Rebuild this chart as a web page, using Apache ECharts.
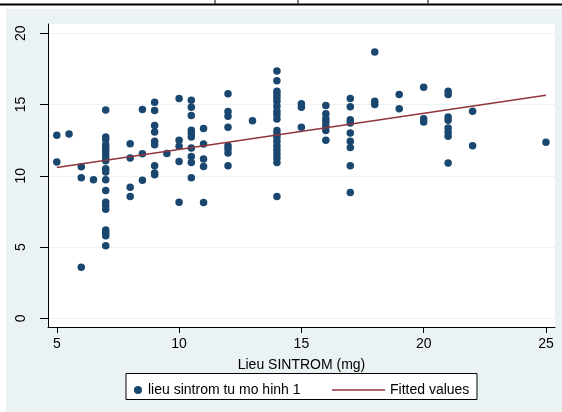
<!DOCTYPE html>
<html>
<head>
<meta charset="utf-8">
<script src="https://cdn.jsdelivr.net/npm/echarts@6/dist/echarts.min.js"></script>
<style>
  html, body { margin: 0; padding: 0; background: #fff; }
  #main { width: 562px; height: 412px; }
</style>
</head>
<body>
<div id="main"></div>
<script>
// lieu SINTROM (mg) groups and predicted dose values
var doseGroups = [5, 5.5, 6, 6.5, 7, 8, 8.5, 9, 9.5, 10, 10.5, 11, 12, 13, 14, 15, 16, 17, 18, 19, 20, 21, 22, 25];
var valuesByDose = [
    [12.84, 10.96],
    [12.93],
    [10.63, 9.86, 3.59],
    [9.72],
    [14.62, 12.72, 12.54, 12.18, 11.95, 11.76, 11.48, 11.24, 11.06, 10.49, 10.26, 9.72, 8.97, 8.15, 7.89, 7.65, 6.20, 6.01, 5.80, 5.09],
    [12.25, 11.24, 9.20, 8.54],
    [14.65, 11.55, 9.69],
    [15.16, 14.58, 13.52, 13.07, 12.42, 12.18, 10.70, 10.19, 10.07],
    [11.57],
    [15.42, 12.49, 12.07, 11.01, 8.15],
    [15.30, 14.81, 14.23, 13.19, 12.96, 12.72, 11.95, 11.36, 10.94, 9.86],
    [13.31, 12.23, 11.18, 10.66, 8.12],
    [15.75, 14.51, 14.18, 13.40, 12.11, 11.88, 11.60, 10.70],
    [13.87],
    [17.35, 16.67, 15.94, 15.70, 15.47, 15.23, 14.88, 14.53, 14.30, 13.99, 13.17, 12.94, 12.70, 12.42, 12.11, 11.83, 11.53, 11.25, 10.94, 8.54],
    [15.05, 14.81, 13.40],
    [14.93, 14.36, 14.00, 13.77, 13.50, 13.18, 12.50],
    [15.42, 14.84, 13.94, 13.71, 13.00, 12.42, 11.99, 10.70, 8.83],
    [18.68, 15.23, 15.00],
    [15.70, 14.70],
    [16.22, 14.01, 13.78],
    [15.94, 15.70, 14.13, 13.89, 13.36, 13.05, 12.77, 10.89],
    [14.53, 12.11],
    [12.35]
];
// fitted line end points
var fitX = [5, 25];
var fitY = [10.58, 15.65];

var xTicks = [5, 10, 15, 20, 25];
var yTicks = [0, 5, 10, 15, 20];

var points = [];
for (var i = 0; i < doseGroups.length; i++) {
    for (var j = 0; j < valuesByDose[i].length; j++) {
        points.push([doseGroups[i], valuesByDose[i][j]]);
    }
}
var fitted = [];
for (var k = 0; k < fitX.length; k++) {
    fitted.push([fitX[k], fitY[k]]);
}

var font = '"Liberation Sans", Arial, sans-serif';
var chart = echarts.init(document.getElementById('main'));

var option = {
    animation: false,
    textStyle: { fontFamily: font },
    graphic: [
        { type: 'rect', z: -10, shape: { x: 6, y: 9, width: 556, height: 403 }, style: { fill: '#eaf2f3' } },
        { type: 'line', shape: { x1: 0, y1: 4.5, x2: 562, y2: 4.5 }, style: { stroke: '#000', lineWidth: 2 } },
        { type: 'line', shape: { x1: 215, y1: 0, x2: 215, y2: 4 }, style: { stroke: '#000', lineWidth: 1 } },
        { type: 'line', shape: { x1: 298, y1: 0, x2: 298, y2: 4 }, style: { stroke: '#000', lineWidth: 1 } },
        { type: 'line', shape: { x1: 428, y1: 0, x2: 428, y2: 4 }, style: { stroke: '#000', lineWidth: 1 } },
        { type: 'rect', z: 1, shape: { x: 126, y: 373.5, width: 351, height: 26 }, style: { fill: '#fff', stroke: '#000', lineWidth: 1 } }
    ],
    grid: {
        left: 48, top: 24, right: 7, bottom: 85,
        show: true, backgroundColor: '#fff', borderWidth: 0
    },
    legend: [
        {
            data: ['lieu sintrom tu mo hinh 1'],
            left: 129, top: 378, z: 5,
            itemWidth: 8, itemHeight: 8,
            textStyle: { fontSize: 14, color: '#000', fontFamily: font, padding: [0, 0, 0, 1] }
        },
        {
            data: [{ name: 'Fitted values', icon: 'rect' }],
            left: 327, top: 378, z: 5,
            itemWidth: 53, itemHeight: 1.5,
            textStyle: { fontSize: 14, color: '#000', fontFamily: font, padding: [0, 0, 0, 0] }
        }
    ],
    xAxis: {
        type: 'value',
        min: 4.64, max: 25.37,
        name: 'Lieu SINTROM (mg)',
        nameLocation: 'middle',
        nameGap: 31,
        nameTextStyle: { fontSize: 14, color: '#000', fontFamily: font },
        axisLine: { show: true, onZero: false, lineStyle: { color: '#000', width: 1 } },
        axisTick: { show: true, length: 6, customValues: xTicks, lineStyle: { color: '#000' } },
        axisLabel: { customValues: xTicks, fontSize: 14, color: '#000', margin: 10, fontFamily: font },
        splitLine: { show: false }
    },
    yAxis: {
        type: 'value',
        min: -0.61, max: 20.65,
        axisLine: { show: true, onZero: false, lineStyle: { color: '#000', width: 1 } },
        axisTick: { show: true, length: 8, customValues: yTicks, lineStyle: { color: '#000' } },
        axisLabel: { customValues: yTicks, rotate: 90, fontSize: 14, color: '#000', margin: 20, fontFamily: font },
        splitLine: { show: true, lineStyle: { color: '#eaf2f3', width: 1 } }
    },
    series: [
        {
            name: 'lieu sintrom tu mo hinh 1',
            type: 'scatter',
            symbol: 'circle',
            symbolSize: 7.5,
            itemStyle: { color: '#1a476f', opacity: 1 },
            data: points,
            z: 3
        },
        {
            name: 'Fitted values',
            type: 'line',
            symbol: 'none',
            showSymbol: false,
            lineStyle: { color: '#90353b', width: 1.5 },
            itemStyle: { color: '#90353b' },
            data: fitted,
            z: 4
        }
    ]
};

chart.setOption(option);
</script>
</body>
</html>
